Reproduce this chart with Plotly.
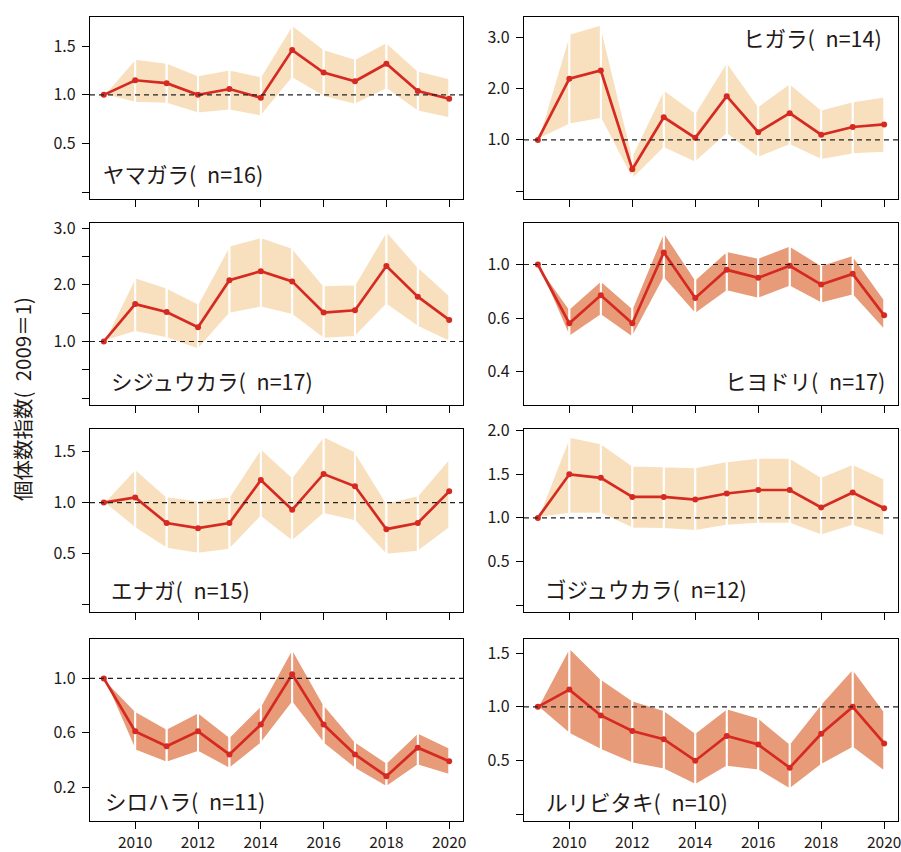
import plotly.graph_objects as go

years = list(range(2009, 2021))

# ---- data (index relative to 2009 = 1) ----
yamagara_label = "ヤマガラ(\u2002n=16)"
yamagara_mean = [1.00, 1.15, 1.12, 1.00, 1.06, 0.97, 1.46, 1.23, 1.14, 1.32, 1.04, 0.96]
yamagara_hi   = [1.00, 1.37, 1.33, 1.20, 1.26, 1.19, 1.72, 1.47, 1.37, 1.54, 1.25, 1.17]
yamagara_lo   = [1.00, 0.92, 0.91, 0.81, 0.84, 0.78, 1.17, 0.98, 0.90, 1.06, 0.83, 0.76]

higara_label = "ヒガラ(\u2002n=14)"
higara_mean = [1.00, 2.19, 2.35, 0.43, 1.44, 1.04, 1.85, 1.15, 1.52, 1.10, 1.25, 1.30]
higara_hi   = [1.00, 3.06, 3.24, 0.71, 1.98, 1.53, 2.52, 1.66, 2.10, 1.59, 1.75, 1.84]
higara_lo   = [1.00, 1.30, 1.41, 0.23, 0.84, 0.56, 1.11, 0.65, 0.90, 0.61, 0.72, 0.75]

shijukara_label = "シジュウカラ(\u2002n=17)"
shijukara_mean = [1.00, 1.66, 1.52, 1.25, 2.08, 2.24, 2.06, 1.51, 1.55, 2.33, 1.79, 1.38]
shijukara_hi   = [1.00, 2.13, 1.95, 1.67, 2.69, 2.84, 2.65, 1.99, 2.01, 2.95, 2.32, 1.82]
shijukara_lo   = [1.00, 1.17, 1.06, 0.86, 1.49, 1.60, 1.47, 1.05, 1.08, 1.65, 1.26, 1.00]

hiyodori_label = "ヒヨドリ(\u2002n=17)"
hiyodori_mean = [1.00, 0.56, 0.77, 0.56, 1.09, 0.75, 0.96, 0.90, 0.99, 0.85, 0.93, 0.62]
hiyodori_hi   = [1.00, 0.67, 0.88, 0.675, 1.245, 0.89, 1.10, 1.05, 1.14, 0.995, 1.07, 0.74]
hiyodori_lo   = [1.00, 0.46, 0.62, 0.455, 0.895, 0.63, 0.80, 0.745, 0.835, 0.71, 0.77, 0.51]

enaga_label = "エナガ(\u2002n=15)"
enaga_mean = [1.00, 1.05, 0.80, 0.75, 0.80, 1.22, 0.93, 1.28, 1.16, 0.74, 0.80, 1.11]
enaga_hi   = [1.00, 1.33, 1.06, 1.02, 1.06, 1.53, 1.25, 1.65, 1.50, 1.00, 1.07, 1.43]
enaga_lo   = [1.00, 0.75, 0.55, 0.50, 0.54, 0.86, 0.62, 0.89, 0.82, 0.49, 0.52, 0.75]

gojukara_label = "ゴジュウカラ(\u2002n=12)"
gojukara_mean = [1.00, 1.50, 1.46, 1.24, 1.24, 1.21, 1.28, 1.32, 1.32, 1.12, 1.29, 1.11]
gojukara_hi   = [1.00, 1.93, 1.855, 1.60, 1.59, 1.58, 1.65, 1.69, 1.69, 1.47, 1.62, 1.45]
gojukara_lo   = [1.00, 1.05, 1.05, 0.88, 0.875, 0.85, 0.91, 0.935, 0.935, 0.80, 0.91, 0.79]

shirohara_label = "シロハラ(\u2002n=11)"
shirohara_mean = [1.00, 0.61, 0.50, 0.61, 0.44, 0.66, 1.03, 0.66, 0.44, 0.28, 0.49, 0.39]
shirohara_hi   = [1.00, 0.76, 0.63, 0.75, 0.57, 0.80, 1.22, 0.81, 0.535, 0.38, 0.60, 0.49]
shirohara_lo   = [1.00, 0.47, 0.38, 0.46, 0.335, 0.52, 0.82, 0.52, 0.335, 0.20, 0.36, 0.29]

ruribitaki_label = "ルリビタキ(\u2002n=10)"
ruribitaki_mean = [1.00, 1.16, 0.92, 0.775, 0.70, 0.50, 0.73, 0.65, 0.435, 0.75, 1.00, 0.66]
ruribitaki_hi   = [1.00, 1.55, 1.26, 1.06, 0.97, 0.76, 0.985, 0.90, 0.66, 1.03, 1.355, 0.96]
ruribitaki_lo   = [1.00, 0.75, 0.60, 0.475, 0.42, 0.275, 0.445, 0.41, 0.235, 0.46, 0.62, 0.40]

y_title = "個体数指数(\u20022009＝1)"

# y tick values / labels per panel
yt1_vals, yt1_text = [0, 0.5, 1.0, 1.5], ["", "0.5", "1.0", "1.5"]
yt2_vals, yt2_text = [0, 1, 2, 3], ["", "1.0", "2.0", "3.0"]
yt3_vals, yt3_text = [0, 0.5, 1, 1.5, 2, 2.5, 3], ["", "", "1.0", "", "2.0", "", "3.0"]
yt4_vals, yt4_text = [0.2, 0.6, 1.0], ["0.4", "0.6", "1.0"]
yt5_vals, yt5_text = [0, 0.5, 1.0, 1.5], ["", "0.5", "1.0", "1.5"]
yt6_vals, yt6_text = [0, 0.5, 1.0, 1.5, 2.0], ["", "0.5", "1.0", "1.5", "2.0"]
yt7_vals, yt7_text = [0.2, 0.6, 1.0], ["0.2", "0.6", "1.0"]
yt8_vals, yt8_text = [0, 0.5, 1.0, 1.5], ["", "0.5", "1.0", "1.5"]

x_tick_vals = [2010, 2012, 2014, 2016, 2018, 2020]
x_tick_text = ["2010", "2012", "2014", "2016", "2018", "2020"]

LIGHT = "#F8E0BF"
DARK = "#E89B79"
RED = "#D52A22"
INK = "#231815"
FONT = "Noto Sans CJK JP"

W, H = 901, 852

panels = [
    # label, mean, hi, lo, band colour, yrange, ticks, label pos(px), anchor
    (yamagara_label, yamagara_mean, yamagara_hi, yamagara_lo, LIGHT, [-0.07, 1.80], yt1_vals, yt1_text, (101, 174), "left"),
    (higara_label, higara_mean, higara_hi, higara_lo, LIGHT, [-0.15, 3.39], yt2_vals, yt2_text, (884, 38), "right"),
    (shijukara_label, shijukara_mean, shijukara_hi, shijukara_lo, LIGHT, [-0.12, 3.09], yt3_vals, yt3_text, (109, 380), "left"),
    (hiyodori_label, hiyodori_mean, hiyodori_hi, hiyodori_lo, DARK, [-0.05, 1.31], yt4_vals, yt4_text, (887, 380), "right"),
    (enaga_label, enaga_mean, enaga_hi, enaga_lo, LIGHT, [-0.07, 1.72], yt5_vals, yt5_text, (109, 589), "left"),
    (gojukara_label, gojukara_mean, gojukara_hi, gojukara_lo, LIGHT, [-0.08, 2.02], yt6_vals, yt6_text, (543, 588), "left"),
    (shirohara_label, shirohara_mean, shirohara_hi, shirohara_lo, DARK, [-0.05, 1.29], yt7_vals, yt7_text, (103, 800), "left"),
    (ruribitaki_label, ruribitaki_mean, ruribitaki_hi, ruribitaki_lo, DARK, [-0.06, 1.63], yt8_vals, yt8_text, (544, 801), "left"),
]

col_px = [(90, 463), (524, 898)]
row_px = [(17, 199), (223, 405), (429, 612), (639, 821)]

fig = go.Figure()
layout = dict(
    width=W, height=H,
    margin=dict(l=0, r=0, t=0, b=0, autoexpand=False),
    paper_bgcolor="white", plot_bgcolor="white",
    showlegend=False,
    font=dict(family=FONT, color=INK),
    annotations=[], shapes=[],
)

for i, (label, mean, hi, lo, band, yr, tv, tt, (lx, ly), anc) in enumerate(panels):
    r, c = divmod(i, 2)
    n = i + 1
    xa = "x" if n == 1 else f"x{n}"
    ya = "y" if n == 1 else f"y{n}"
    # band: one polygon per year interval
    bx, by = [], []
    for k in range(len(years) - 1):
        bx += [years[k], years[k + 1], years[k + 1], years[k], years[k], None]
        by += [hi[k], hi[k + 1], lo[k + 1], lo[k], hi[k], None]
    fig.add_trace(go.Scatter(x=bx, y=by, mode="lines", fill="toself", fillcolor=band,
                             line=dict(color="white", width=1.8), xaxis=xa, yaxis=ya,
                             hoverinfo="skip"))
    fig.add_trace(go.Scatter(x=years, y=mean, mode="lines+markers",
                             line=dict(color=RED, width=2.7),
                             marker=dict(color=RED, size=6),
                             xaxis=xa, yaxis=ya))
    x0, x1 = col_px[c]
    y0, y1 = row_px[r]
    bottom = (r == 3)
    layout[f"xaxis{'' if n == 1 else n}"] = dict(
        domain=[x0 / W, x1 / W], anchor=ya, range=[2008.56, 2020.44], automargin=False,
        showgrid=False, zeroline=False, showline=True, mirror=True,
        linecolor="black", linewidth=1.2,
        ticks="outside", ticklen=7, tickwidth=1.2, tickcolor="black",
        tickvals=x_tick_vals, ticktext=x_tick_text if bottom else [""] * len(x_tick_vals),
        ticklabeloverflow="allow",
        tickfont=dict(family=FONT, size=15.5, color=INK),
    )
    layout[f"yaxis{'' if n == 1 else n}"] = dict(
        domain=[1 - y1 / H, 1 - y0 / H], anchor=xa, range=yr, automargin=False,
        showgrid=False, zeroline=False, showline=True, mirror=True,
        linecolor="black", linewidth=1.2,
        ticks="outside", ticklen=7, tickwidth=1.2, tickcolor="black",
        tickvals=tv, ticktext=tt, ticklabelstandoff=3,
        tickfont=dict(family=FONT, size=16, color=INK),
    )
    layout["shapes"].append(dict(type="line", xref=f"{xa} domain", yref=ya,
                                 x0=0, x1=1, y0=1, y1=1,
                                 line=dict(color="#222222", width=1.2, dash="5px,4px")))
    layout["annotations"].append(dict(text=label, x=lx / W, y=1 - ly / H,
                                      xref="paper", yref="paper",
                                      xanchor=anc, yanchor="middle", showarrow=False,
                                      font=dict(family=FONT, size=21.5, color=INK)))

layout["annotations"].append(dict(text=y_title, x=22 / W, y=1 - 399 / H,
                                  xref="paper", yref="paper", textangle=-90,
                                  xanchor="center", yanchor="middle", showarrow=False,
                                  font=dict(family=FONT, size=20.5, color=INK)))

fig.update_layout(**layout)
fig.write_html("out.html", post_script="document.body.style.margin='0';",
               config={"displayModeBar": False})
